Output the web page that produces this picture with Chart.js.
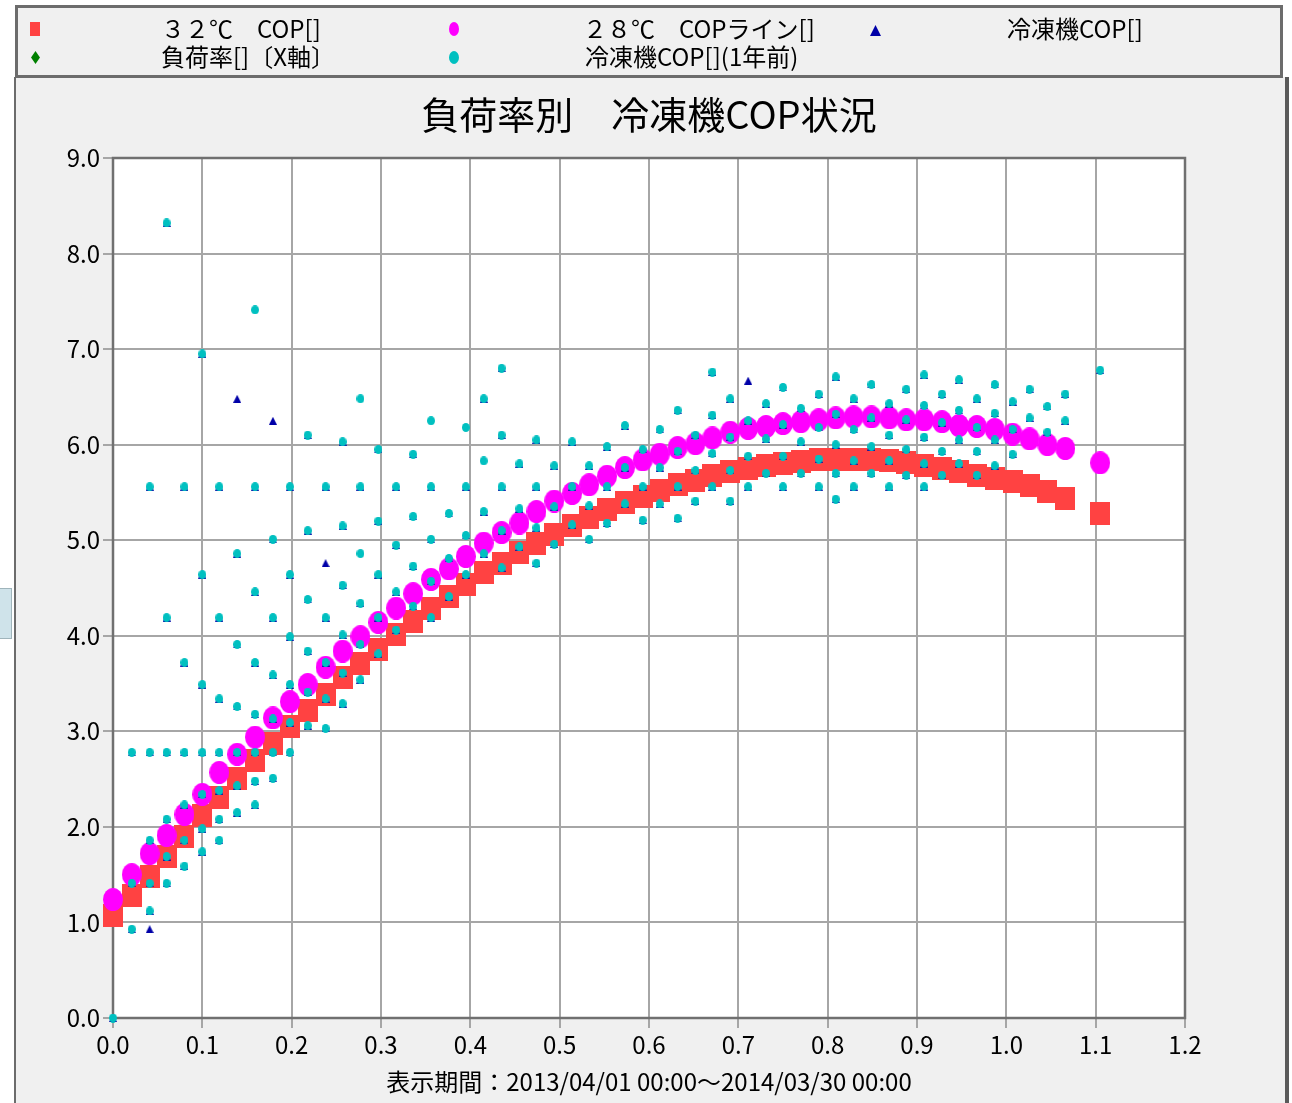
<!DOCTYPE html>
<html lang="ja">
<head>
<meta charset="utf-8">
<title>負荷率別 冷凍機COP状況</title>
<script src="https://cdn.jsdelivr.net/npm/chart.js@4.4.1/dist/chart.umd.min.js"></script>
<style>
  html, body { margin: 0; padding: 0; background: #fff; }
  body { width: 1292px; height: 1103px; position: relative; overflow: hidden;
         font-family: "Noto Sans CJK JP", sans-serif; }
  #panel { position: absolute; left: 14px; top: 77px; width: 1269px; height: 1026px;
           background: #f0f0f0; border-left: 2px solid #6c6c6c; border-right: 4px solid #5a5a5a; }
  #legendBox { position: absolute; left: 15px; top: 5px; width: 1268px; height: 73px;
               box-sizing: border-box; background: #f0f0f0; border: 3px solid #6c6c6c; }
  #side { position: absolute; left: 0; top: 588px; width: 11px; height: 49px;
          background: #cfe3ea; border: 1px solid #9fb4bb; border-left: none; }
  .lgText { position: absolute; font-size: 24px; line-height: 28px; color: #000; white-space: nowrap; }
  .lgMark { position: absolute; }
  #c { position: absolute; left: 0; top: 0; }
</style>
</head>
<body>
<div id="panel"></div>
<div id="legendBox"></div>
<div id="side"></div>
<canvas id="c" width="1292" height="1103"></canvas>
<script>
// load rate of each column (x axis)
const loadCols = [0.000, 0.021, 0.041, 0.060, 0.080, 0.100, 0.119, 0.139, 0.159, 0.179,
  0.198, 0.218, 0.238, 0.257, 0.277, 0.297, 0.317, 0.336, 0.356, 0.376,
  0.395, 0.415, 0.435, 0.455, 0.474, 0.494, 0.514, 0.533, 0.553, 0.573,
  0.593, 0.612, 0.632, 0.652, 0.671, 0.691, 0.711, 0.731, 0.750, 0.770,
  0.790, 0.809, 0.829, 0.849, 0.869, 0.888, 0.908, 0.928, 0.947, 0.967,
  0.987, 1.007, 1.026, 1.046, 1.066, 1.085, 1.105];

// 32℃ COP
const cop32 = [1.07, 1.28, 1.48, 1.69, 1.90, 2.12, 2.31, 2.51, 2.70, 2.87,
  3.05, 3.22, 3.39, 3.56, 3.71, 3.86, 4.01, 4.15, 4.29, 4.41,
  4.54, 4.66, 4.76, 4.87, 4.97, 5.06, 5.15, 5.24, 5.32, 5.39,
  5.46, 5.52, 5.58, 5.63, 5.68, 5.72, 5.75, 5.78, 5.80, 5.82,
  5.84, 5.85, 5.85, 5.84, 5.83, 5.81, 5.78, 5.75, 5.72, 5.68,
  5.65, 5.61, 5.57, 5.51, 5.44, null, 5.28];

// 28℃ COP line
const cop28 = [1.24, 1.50, 1.72, 1.91, 2.13, 2.34, 2.57, 2.76, 2.94, 3.14,
  3.31, 3.49, 3.67, 3.84, 3.99, 4.14, 4.29, 4.44, 4.59, 4.70,
  4.83, 4.97, 5.08, 5.18, 5.30, 5.41, 5.49, 5.58, 5.67, 5.76,
  5.84, 5.90, 5.97, 6.01, 6.07, 6.13, 6.17, 6.19, 6.22, 6.24,
  6.26, 6.28, 6.29, 6.29, 6.28, 6.26, 6.26, 6.24, 6.20, 6.19,
  6.16, 6.11, 6.06, 6.00, 5.96, null, 5.81];

// chiller COP, one list per column
const copNow = [
  [0.00], [2.78, 1.41, 0.93], [5.56, 2.78, 1.86, 1.41, 1.12, 0.93],
  [8.32, 4.19, 2.78, 2.08, 1.69, 1.41], [5.56, 3.72, 2.78, 2.23, 1.86, 1.59],
  [6.95, 4.64, 3.49, 2.78, 2.34, 1.98, 1.74], [5.56, 4.19, 3.34, 2.78, 2.38, 2.08, 1.86],
  [6.48, 4.86, 3.91, 3.26, 2.78, 2.43, 2.15], [5.56, 4.46, 3.72, 3.18, 2.78, 2.48, 2.23],
  [6.25, 5.01, 4.19, 3.59, 3.13, 2.78, 2.51], [5.56, 4.64, 3.99, 3.49, 3.09, 2.78],
  [6.10, 5.10, 4.38, 3.84, 3.41, 3.06], [5.56, 4.76, 4.19, 3.72, 3.34, 3.03],
  [6.03, 5.15, 4.53, 4.01, 3.61, 3.29], [5.56, 4.34, 3.91, 3.54],
  [5.95, 5.20, 4.64, 4.19, 3.81], [5.56, 4.95, 4.46, 4.06],
  [5.90, 5.25, 4.73, 4.31], [5.56, 5.01, 4.57, 4.19],
  [5.28, 4.81, 4.41], [5.56, 5.05, 4.64],
  [6.48, 5.30, 4.86], [6.80, 6.10, 5.56, 5.10, 4.71],
  [5.80, 5.33, 4.93], [6.05, 5.56, 5.13, 4.76],
  [5.78, 5.35, 4.96], [6.03, 5.56, 5.16],
  [5.78, 5.36, 5.01], [5.98, 5.56, 5.18],
  [6.20, 5.76, 5.38], [5.95, 5.56, 5.21],
  [6.16, 5.76, 5.38], [6.36, 5.93, 5.56, 5.23],
  [6.10, 5.73, 5.41], [6.76, 6.31, 5.91, 5.56],
  [6.48, 6.08, 5.73, 5.41], [6.67, 6.25, 5.88, 5.56],
  [6.43, 6.06, 5.70], [6.60, 6.21, 5.88, 5.56],
  [6.38, 6.03, 5.70], [6.53, 6.18, 5.85, 5.56],
  [6.71, 6.32, 6.00, 5.70, 5.43], [6.48, 6.16, 5.83, 5.56],
  [6.63, 6.28, 5.98, 5.70], [6.43, 6.10, 5.83, 5.56],
  [6.58, 6.26, 5.95, 5.68], [6.73, 6.41, 6.08, 5.80, 5.56],
  [6.53, 6.23, 5.93, 5.68], [6.68, 6.36, 6.05, 5.80],
  [6.48, 6.18, 5.93, 5.68], [6.63, 6.33, 6.05, 5.78],
  [6.45, 6.16, 5.90], [6.58, 6.28],
  [6.40, 6.13], [6.53, 6.25],
  [], [6.78]
];

// chiller COP one year before, one list per column
const copPrev = [
  [0.00], [2.78, 1.41, 0.93], [5.56, 2.78, 1.86, 1.41, 1.12],
  [8.32, 4.19, 2.78, 2.08, 1.69, 1.41], [5.56, 3.72, 2.78, 2.23, 1.86, 1.59],
  [6.95, 4.64, 3.49, 2.78, 2.34, 1.98, 1.74], [5.56, 4.19, 3.34, 2.78, 2.38, 2.08, 1.86],
  [4.86, 3.91, 3.26, 2.78, 2.43, 2.15], [7.41, 5.56, 4.46, 3.72, 3.18, 2.78, 2.48, 2.23],
  [5.01, 4.19, 3.59, 3.13, 2.78, 2.51], [5.56, 4.64, 3.99, 3.49, 3.09, 2.78],
  [6.10, 5.10, 4.38, 3.84, 3.41, 3.06], [5.56, 4.19, 3.72, 3.34, 3.03],
  [6.03, 5.15, 4.53, 4.01, 3.61, 3.29], [6.48, 5.56, 4.86, 4.34, 3.91, 3.54],
  [5.95, 5.20, 4.64, 4.19, 3.81], [5.56, 4.95, 4.46, 4.06],
  [5.90, 5.25, 4.73, 4.31], [6.25, 5.56, 5.01, 4.57, 4.19],
  [5.28, 4.81, 4.41], [6.18, 5.56, 5.05, 4.64],
  [6.48, 5.83, 5.30, 4.86], [6.80, 6.10, 5.56, 5.10, 4.71],
  [5.80, 5.33, 4.93], [6.05, 5.56, 5.13, 4.76],
  [5.78, 5.35, 4.96], [6.03, 5.56, 5.16],
  [5.78, 5.36, 5.01], [5.98, 5.56, 5.18],
  [6.20, 5.76, 5.38], [5.95, 5.56, 5.21],
  [6.16, 5.76, 5.38], [6.36, 5.93, 5.56, 5.23],
  [6.10, 5.73, 5.41], [6.76, 6.31, 5.91, 5.56],
  [6.48, 6.08, 5.73, 5.41], [6.25, 5.88, 5.56],
  [6.43, 6.06, 5.70], [6.60, 6.21, 5.88, 5.56],
  [6.38, 6.03, 5.70], [6.53, 6.18, 5.85, 5.56],
  [6.71, 6.32, 6.00, 5.70, 5.43], [6.48, 6.16, 5.83, 5.56],
  [6.63, 6.28, 5.98, 5.70], [6.43, 6.10, 5.83, 5.56],
  [6.58, 6.26, 5.95, 5.68], [6.73, 6.41, 6.08, 5.80, 5.56],
  [6.53, 6.23, 5.93, 5.68], [6.68, 6.36, 6.05, 5.80],
  [6.48, 6.18, 5.93, 5.68], [6.63, 6.33, 6.05, 5.78],
  [6.45, 6.16, 5.90], [6.58, 6.28],
  [6.40, 6.13], [6.53, 6.25],
  [], [6.78]
];

const xTickLabels = ['0.0', '0.1', '0.2', '0.3', '0.4', '0.5', '0.6', '0.7', '0.8', '0.9', '1.0', '1.1', '1.2'];
const yTickLabels = ['0.0', '1.0', '2.0', '3.0', '4.0', '5.0', '6.0', '7.0', '8.0', '9.0'];

const chartTitle = '負荷率別　冷凍機COP状況';
const periodText = '表示期間：2013/04/01 00:00～2014/03/30 00:00';

function makeMarker(shape, w, h, color) {
  const c = document.createElement('canvas');
  c.width = w; c.height = h;
  const g = c.getContext('2d');
  g.fillStyle = color;
  g.beginPath();
  if (shape === 'rect') g.rect(0, 0, w, h);
  else if (shape === 'ellipse') g.ellipse(w / 2, h / 2, w / 2, h / 2, 0, 0, Math.PI * 2);
  else if (shape === 'triangle') { g.moveTo(w / 2, 0); g.lineTo(w, h); g.lineTo(0, h); g.closePath(); }
  else if (shape === 'diamond') { g.moveTo(w / 2, 0); g.lineTo(w, h / 2); g.lineTo(w / 2, h); g.lineTo(0, h / 2); g.closePath(); }
  g.fill();
  return c;
}

const line = vals => vals.map((v, i) => v === null ? null : { x: loadCols[i], y: v }).filter(p => p);
const cloud = cols => cols.flatMap((vs, i) => vs.map(v => ({ x: loadCols[i], y: v })));

// lg: legend marker w, h, marker cx, cy, text left, text top
const series = {
  c32:  { label: '３２℃　COP[]',       shape: 'rect',     color: '#ff4242', size: [20, 23], lg: [10, 14, 35, 29, 161, 14] },
  c28:  { label: '２８℃　COPライン[]', shape: 'ellipse',  color: '#ff00ff', size: [20, 23], lg: [10, 14, 454, 29, 583, 14] },
  now:  { label: '冷凍機COP[]',         shape: 'triangle', color: '#0000a8', size: [8, 8],   lg: [11, 11, 875, 30, 1007, 14] },
  load: { label: '負荷率[]〔X軸〕',      shape: 'diamond',  color: '#008000', size: [8, 12],  lg: [9, 13, 35, 57, 161, 42] },
  prev: { label: '冷凍機COP[](1年前)',  shape: 'ellipse',  color: '#00c0c0', size: [8, 9],   lg: [10, 13, 454, 57, 585, 42] }
};

function ds(key, data) {
  const s = series[key];
  return {
    label: s.label,
    data: data,
    showLine: false,
    clip: false,
    pointStyle: makeMarker(s.shape, s.size[0], s.size[1], s.color),
    pointRadius: Math.max(s.size[0], s.size[1]) / 2,
    pointBorderWidth: 0,
    backgroundColor: s.color,
    borderColor: s.color
  };
}

const plotFrame = {
  id: 'plotFrame',
  beforeDraw(chart) {
    const { ctx, chartArea: a } = chart;
    ctx.save();
    ctx.fillStyle = '#ffffff';
    ctx.fillRect(a.left, a.top, a.width, a.height);
    ctx.restore();
  },
  beforeDatasetsDraw(chart) {
    const { ctx, chartArea: a } = chart;
    ctx.save();
    ctx.strokeStyle = '#707070';
    ctx.lineWidth = 2.5;
    ctx.strokeRect(a.left, a.top, a.width, a.height);
    ctx.restore();
  }
};

Chart.defaults.font.family = '"Noto Sans CJK JP", sans-serif';
Chart.defaults.color = '#000';

const chart = new Chart(document.getElementById('c'), {
  type: 'scatter',
  data: {
    // first dataset is drawn on top
    datasets: [
      ds('prev', cloud(copPrev)),
      ds('load', []),
      ds('now', cloud(copNow)),
      ds('c28', line(cop28)),
      ds('c32', line(cop32))
    ]
  },
  options: {
    responsive: false,
    animation: false,
    events: [],
    layout: { padding: { top: 80, right: 107, bottom: 0, left: 0 } },
    plugins: {
      legend: { display: false },
      tooltip: { enabled: false },
      title: {
        display: true,
        fullSize: false,
        text: chartTitle,
        font: { size: 38, weight: 'normal' },
        color: '#000',
        padding: { top: 12, bottom: 20.4 }
      }
    },
    scales: {
      x: {
        type: 'linear', min: 0, max: 1.2,
        ticks: { stepSize: 0.1, autoSkip: false, maxRotation: 0, padding: 2,
                 font: { size: 24 }, color: '#000',
                 callback: (v, i) => xTickLabels[i] },
        grid: { color: '#a6a6a6', lineWidth: 2, tickLength: 10 },
        border: { display: false },
        title: { display: true, text: periodText, color: '#000',
                 font: { size: 24 }, padding: { top: 0, bottom: 7 } },
        afterFit: s => { s.height = 85; }
      },
      y: {
        type: 'linear', min: 0, max: 9,
        ticks: { stepSize: 1, padding: 3, font: { size: 24 }, color: '#000',
                 callback: (v, i) => yTickLabels[i] },
        grid: { color: '#a6a6a6', lineWidth: 2, tickLength: 10 },
        border: { display: false },
        afterFit: s => { s.width = 113; }
      }
    }
  },
  plugins: [plotFrame]
});

// legend in the box at the top, in the source order
['c32', 'c28', 'now', 'load', 'prev'].forEach(key => {
  const s = series[key];
  const [w, h, cx, cy, tx, ty] = s.lg;
  const m = makeMarker(s.shape, w, h, s.color);
  m.className = 'lgMark';
  m.style.left = (cx - w / 2) + 'px';
  m.style.top = (cy - h / 2) + 'px';
  document.body.appendChild(m);
  const t = document.createElement('div');
  t.className = 'lgText';
  t.textContent = s.label;
  t.style.left = tx + 'px';
  t.style.top = ty + 'px';
  document.body.appendChild(t);
});
</script>
</body>
</html>
